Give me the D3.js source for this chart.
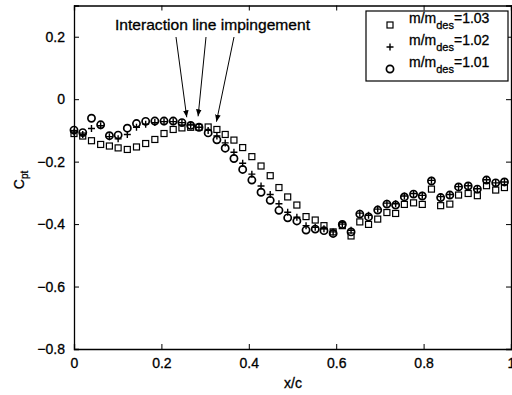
<!DOCTYPE html>
<html>
<head>
<meta charset="utf-8">
<script src="https://cdn.jsdelivr.net/npm/d3@7"></script>
<style>
  body { margin: 0; background: #fff; }
  svg { display: block; font-family: "Liberation Sans", Arial, sans-serif; }
  svg text { stroke: #000; stroke-width: 0.3px; }
</style>
</head>
<body>
<script>
// x/c stations
const xc = [0, 0.02, 0.04, 0.061, 0.081, 0.101, 0.122, 0.143, 0.164, 0.185, 0.206, 0.227, 0.247, 0.267, 0.286, 0.307, 0.327, 0.346, 0.366, 0.386, 0.407, 0.428, 0.449, 0.469, 0.489, 0.51, 0.531, 0.552, 0.572, 0.593, 0.614, 0.634, 0.654, 0.674, 0.695, 0.716, 0.736, 0.756, 0.777, 0.797, 0.818, 0.839, 0.86, 0.88, 0.902, 0.923, 0.944, 0.965, 0.985]

// m/m_des = 1.03 (squares)
const cp103 = [-0.11, -0.118, -0.133, -0.145, -0.15, -0.156, -0.161, -0.153, -0.142, -0.129, -0.11, -0.097, -0.092, -0.09, -0.09, -0.089, -0.097, -0.113, -0.131, -0.155, -0.184, -0.214, -0.245, -0.283, -0.313, -0.339, -0.376, -0.387, -0.405, -0.425, -0.405, -0.438, -0.393, -0.401, -0.384, -0.363, -0.366, -0.337, -0.332, -0.337, -0.288, -0.341, -0.336, -0.307, -0.302, -0.309, -0.277, -0.291, -0.283]
// m/m_des = 1.02 (plus)
const cp102 = [-0.105, -0.113, -0.094, -0.085, -0.12, -0.127, -0.113, -0.09, -0.08, -0.075, -0.072, -0.072, -0.075, -0.083, -0.09, -0.1, -0.118, -0.14, -0.17, -0.205, -0.24, -0.278, -0.305, -0.335, -0.362, -0.378, -0.405, -0.41, -0.415, -0.425, -0.4, -0.42, -0.365, -0.372, -0.352, -0.333, -0.335, -0.31, -0.302, -0.308, -0.26, -0.312, -0.305, -0.28, -0.277, -0.287, -0.258, -0.268, -0.265]
// m/m_des = 1.01 (circles)
const cp101 = [-0.099, -0.107, -0.061, -0.082, -0.117, -0.115, -0.093, -0.078, -0.071, -0.07, -0.07, -0.07, -0.075, -0.084, -0.09, -0.108, -0.13, -0.157, -0.19, -0.225, -0.259, -0.298, -0.324, -0.356, -0.38, -0.39, -0.419, -0.416, -0.421, -0.43, -0.401, -0.425, -0.368, -0.377, -0.355, -0.336, -0.339, -0.313, -0.304, -0.31, -0.262, -0.315, -0.307, -0.281, -0.278, -0.288, -0.259, -0.268, -0.265]

const xTicks = [0, 0.2, 0.4, 0.6, 0.8, 1]
const yTicks = [0.2, 0, -0.2, -0.4, -0.6, -0.8]
const legendLabels = ['1.03', '1.02', '1.01']
const arrowTargets = [0.258, 0.284, 0.326] // x/c of impingement arrows

const W = 512, H = 395
const m = { left: 74, right: 1, top: 5.5, bottom: 46 }

const svg = d3.select('body').append('svg')
  .attr('width', W).attr('height', H)

const x = d3.scaleLinear().domain([0, 1]).range([m.left, W - m.right])
const y = d3.scaleLinear().domain([-0.8, 0.3]).range([H - m.bottom, m.top])

const fmt = d => d === 0 ? '0' : d3.format('.1f')(d).replace('-', '\u2212')

// axes (ticks inward)
const tk = 5
svg.append('g').attr('transform', `translate(0,${y(-0.8)})`)
  .call(d3.axisBottom(x).tickValues(xTicks).tickSize(-tk).tickPadding(9).tickFormat(d => d === 0 ? '0' : d === 1 ? '1' : d3.format('.1f')(d)))
svg.append('g').attr('transform', `translate(0,${y(0.3)})`)
  .call(d3.axisTop(x).tickValues(xTicks).tickSize(-tk).tickFormat(''))
svg.append('g').attr('transform', `translate(${x(0)},0)`)
  .call(d3.axisLeft(y).tickValues(yTicks).tickSize(-tk).tickPadding(9).tickFormat(fmt))
svg.append('g').attr('transform', `translate(${x(1)},0)`)
  .call(d3.axisRight(y).tickValues(yTicks).tickSize(-tk).tickFormat(''))

svg.selectAll('.domain').attr('stroke', '#000').attr('stroke-width', 1.3)
svg.selectAll('.tick line').attr('stroke', '#000').attr('stroke-width', 1)
svg.selectAll('.tick text').attr('font-size', 14).attr('fill', '#000')
  .attr('font-family', '"Liberation Sans", Arial, sans-serif')

// markers
const g = svg.append('g')
g.selectAll('rect.s').data(d3.zip(xc, cp103)).enter().append('rect')
  .attr('x', d => x(d[0]) - 3).attr('y', d => y(d[1]) - 3)
  .attr('width', 6).attr('height', 6)
  .attr('fill', 'none').attr('stroke', '#000').attr('stroke-width', 1.2)

g.selectAll('path.p').data(d3.zip(xc, cp102)).enter().append('path')
  .attr('d', d => `M${x(d[0]) - 3.5},${y(d[1])}h7M${x(d[0])},${y(d[1]) - 3.5}v7`)
  .attr('stroke', '#000').attr('stroke-width', 1.4)

g.selectAll('circle.c').data(d3.zip(xc, cp101)).enter().append('circle')
  .attr('cx', d => x(d[0])).attr('cy', d => y(d[1])).attr('r', 3.6)
  .attr('fill', 'none').attr('stroke', '#000').attr('stroke-width', 1.7)

// axis labels
svg.append('text').attr('x', 293).attr('y', 388).attr('text-anchor', 'middle')
  .attr('font-size', 14).text('x/c')
const yl = svg.append('text').attr('transform', 'translate(24,180) rotate(-90)')
  .attr('text-anchor', 'middle').attr('font-size', 14)
yl.append('tspan').text('C')
yl.append('tspan').attr('font-size', 10).attr('dy', 4).text('pt')

// annotation
svg.append('defs').append('marker').attr('id', 'ah')
  .attr('viewBox', '0 0 10 10').attr('refX', 10).attr('refY', 5)
  .attr('markerWidth', 7).attr('markerHeight', 7).attr('orient', 'auto')
  .attr('markerUnits', 'userSpaceOnUse')
  .append('path').attr('d', 'M0,1L10,5L0,9Z').attr('fill', '#000')

svg.append('text').attr('x', 115).attr('y', 30).attr('font-size', 15)
  .attr('textLength', 195).attr('lengthAdjust', 'spacingAndGlyphs')
  .text('Interaction line impingement')

const starts = [176, 206, 234]
const ends = [-0.058, -0.055, -0.072]
svg.selectAll('line.arr').data(d3.zip(starts, arrowTargets, ends)).enter().append('line')
  .attr('x1', d => d[0]).attr('y1', 37)
  .attr('x2', d => x(d[1])).attr('y2', d => y(d[2]))
  .attr('stroke', '#000').attr('stroke-width', 1).attr('marker-end', 'url(#ah)')

// legend
const lg = svg.append('g')
lg.append('rect').attr('x', 366).attr('y', 11).attr('width', 142).attr('height', 70)
  .attr('fill', '#fff').attr('stroke', '#000').attr('stroke-width', 1.2)
const rowY = [23, 45, 67]
legendLabels.forEach((lab, i) => {
  const t = lg.append('text').attr('x', 409).attr('y', rowY[i]).attr('font-size', 14)
  t.append('tspan').text('m/m')
  t.append('tspan').attr('font-size', 11).attr('dy', 6).text('des')
  t.append('tspan').attr('dy', -6).text('=' + lab)
})
const mx = 390
lg.append('rect').attr('x', mx - 3).attr('y', rowY[0] + 2 - 3).attr('width', 6).attr('height', 6)
  .attr('fill', 'none').attr('stroke', '#000').attr('stroke-width', 1.2)
lg.append('path').attr('d', `M${mx - 3.5},${rowY[1] + 2}h7M${mx},${rowY[1] + 2 - 3.5}v7`)
  .attr('stroke', '#000').attr('stroke-width', 1.4)
lg.append('circle').attr('cx', mx).attr('cy', rowY[2] + 2).attr('r', 3.6)
  .attr('fill', 'none').attr('stroke', '#000').attr('stroke-width', 1.7)
</script>
</body>
</html>
